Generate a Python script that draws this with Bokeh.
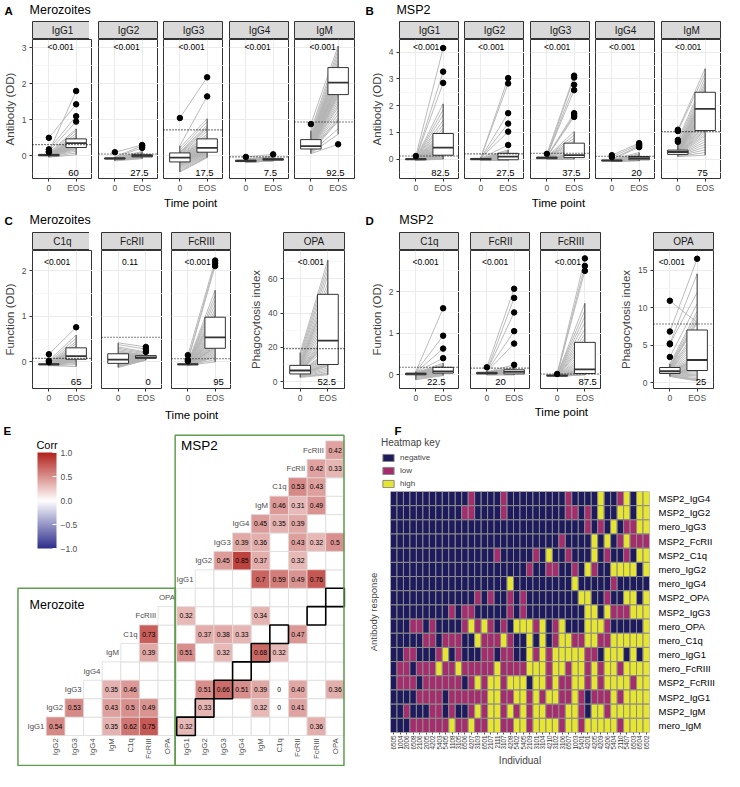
import numpy as np
from bokeh.plotting import figure
from bokeh.models import (Range1d, FixedTicker, ColumnDataSource, Span, LinearAxis, Grid,
                          ColorBar, LinearColorMapper, Legend, LegendItem)
from bokeh.layouts import row, column
from bokeh.core.properties import value
from bokeh.embed import file_html
from bokeh.resources import INLINE

FONT = "Liberation Sans"
S = 0.97
DARK = "#333333"
AXIS_TXT = "#4d4d4d"
GRID = "#ebebeb"
GRID_MINOR = "#f4f4f4"
STRIP_FILL = "#d9d9d9"
LINE_GREY = "#b3b3b3"


def r(v):
    return int(round(v * S))

# ============================ DATA ============================
time_labels = ["0", "EOS"]

# ---- A: Merozoites, antibodies ----
A_facets = ["IgG1", "IgG2", "IgG3", "IgG4", "IgM"]
A_pval = ["<0.001", "<0.001", "<0.001", "<0.001", "<0.001"]
A_pct = ["60", "27.5", "17.5", "7.5", "92.5"]
A_cutoff = [0.31, 0.05, 0.72, -0.03, 0.94]
A_box0 = [[-0.04, 0.00, 0.02, 0.04, 0.08], [-0.14, -0.09, -0.07, -0.06, -0.03],
          [-0.45, -0.17, -0.05, 0.08, 0.28], [-0.18, -0.16, -0.14, -0.12, -0.09],
          [0.06, 0.19, 0.27, 0.45, 0.70]]
A_box1 = [[0.03, 0.23, 0.35, 0.47, 0.75], [-0.08, -0.03, 0.00, 0.03, 0.12],
          [-0.05, 0.10, 0.22, 0.47, 1.03], [-0.14, -0.12, -0.10, -0.08, -0.05],
          [0.60, 1.70, 2.03, 2.45, 3.05]]
A_out0 = [[0.50, 0.18, 0.12, 0.10], [0.10], [1.05], [-0.03], [0.88]]
A_out1 = [[1.80, 1.43, 1.10, 0.95], [0.30, 0.28, 0.22], [2.18, 1.65], [0.04], [0.32]]

A_IgG1_t0 = [0.50, 0.18, 0.12, 0.10, 0.08, 0.06, 0.05, 0.05, 0.04, 0.04, 0.04, 0.03, 0.03, 0.03, 0.03, 0.03, 0.02, 0.02, 0.02, 0.02,
             0.02, 0.02, 0.01, 0.01, 0.01, 0.01, 0.01, 0.00, 0.00, 0.00, 0.00, 0.00, 0.00, -0.01, -0.01, -0.01, -0.02, -0.02, -0.03, -0.04]
A_IgG1_eos = [1.43, 1.10, 0.95, 1.80, 0.75, 0.70, 0.62, 0.55, 0.50, 0.48, 0.47, 0.46, 0.44, 0.42, 0.40, 0.39, 0.38, 0.37, 0.36, 0.35,
              0.35, 0.34, 0.33, 0.32, 0.31, 0.30, 0.29, 0.28, 0.27, 0.26, 0.25, 0.24, 0.23, 0.23, 0.22, 0.20, 0.17, 0.13, 0.08, 0.03]
A_IgG2_t0 = [0.10, -0.03, -0.04, -0.05, -0.05, -0.05, -0.06, -0.06, -0.06, -0.06, -0.06, -0.07, -0.07, -0.07, -0.07, -0.07, -0.07, -0.07, -0.08, -0.08,
             -0.08, -0.08, -0.08, -0.08, -0.08, -0.09, -0.09, -0.09, -0.09, -0.09, -0.10, -0.10, -0.10, -0.10, -0.11, -0.11, -0.12, -0.12, -0.13, -0.14]
A_IgG2_eos = [0.30, 0.28, 0.22, 0.12, 0.10, 0.08, 0.07, 0.06, 0.05, 0.04, 0.04, 0.03, 0.03, 0.03, 0.02, 0.02, 0.02, 0.01, 0.01, 0.01,
              0.00, 0.00, 0.00, 0.00, -0.01, -0.01, -0.01, -0.02, -0.02, -0.02, -0.03, -0.03, -0.03, -0.04, -0.04, -0.05, -0.05, -0.06, -0.07, -0.08]
A_IgG3_t0 = [1.05, 0.28, 0.22, 0.15, 0.10, 0.08, 0.06, 0.04, 0.02, 0.00, -0.02, -0.03, -0.04, -0.05, -0.05, -0.06, -0.07, -0.08, -0.09, -0.10,
             -0.11, -0.12, -0.13, -0.14, -0.15, -0.16, -0.17, -0.17, -0.18, -0.19, -0.20, -0.22, -0.24, -0.26, -0.28, -0.31, -0.34, -0.38, -0.42, -0.45]
A_IgG3_eos = [2.18, 1.65, 1.03, 0.95, 0.85, 0.80, 0.75, 0.68, 0.60, 0.55, 0.50, 0.47, 0.44, 0.40, 0.37, 0.33, 0.30, 0.28, 0.26, 0.24,
              0.22, 0.21, 0.20, 0.18, 0.17, 0.15, 0.14, 0.13, 0.12, 0.11, 0.10, 0.09, 0.07, 0.05, 0.03, 0.01, -0.01, -0.03, -0.04, -0.05]
A_IgG4_t0 = [-0.03, -0.09, -0.10, -0.11, -0.11, -0.12, -0.12, -0.12, -0.13, -0.13, -0.13, -0.13, -0.14, -0.14, -0.14, -0.14, -0.14, -0.14, -0.14, -0.15,
             -0.15, -0.15, -0.15, -0.15, -0.15, -0.16, -0.16, -0.16, -0.16, -0.16, -0.17, -0.17, -0.17, -0.17, -0.18, -0.18, -0.18, -0.18, -0.18, -0.18]
A_IgG4_eos = [0.04, -0.01, -0.02, -0.05, -0.06, -0.07, -0.07, -0.08, -0.08, -0.08, -0.09, -0.09, -0.09, -0.09, -0.10, -0.10, -0.10, -0.10, -0.10, -0.10,
              -0.11, -0.11, -0.11, -0.11, -0.11, -0.11, -0.12, -0.12, -0.12, -0.12, -0.12, -0.13, -0.13, -0.13, -0.13, -0.14, -0.14, -0.14, -0.14, -0.14]
A_IgM_t0 = [0.88, 0.70, 0.62, 0.56, 0.52, 0.48, 0.46, 0.45, 0.43, 0.40, 0.38, 0.36, 0.34, 0.32, 0.30, 0.29, 0.28, 0.27, 0.27, 0.26,
            0.25, 0.24, 0.23, 0.22, 0.21, 0.21, 0.20, 0.20, 0.19, 0.19, 0.18, 0.17, 0.16, 0.15, 0.14, 0.12, 0.10, 0.09, 0.07, 0.06]
A_IgM_eos = [3.05, 2.95, 2.85, 2.75, 2.65, 2.58, 2.52, 2.47, 2.45, 2.40, 2.35, 2.30, 2.25, 2.20, 2.15, 2.10, 2.06, 2.03, 2.00, 1.97,
             1.93, 1.90, 1.85, 1.80, 1.76, 1.72, 1.70, 1.65, 1.58, 1.50, 1.42, 1.35, 1.25, 1.15, 1.05, 1.00, 0.96, 0.75, 0.60, 0.32]

# ---- B: MSP2, antibodies ----
B_facets = ["IgG1", "IgG2", "IgG3", "IgG4", "IgM"]
B_pval = ["<0.001", "<0.001", "<0.001", "<0.001", "<0.001"]
B_pct = ["82.5", "27.5", "37.5", "20", "75"]
B_cutoff = [0.12, 0.20, 0.22, 0.11, 1.03]
B_box0 = [[-0.04, -0.02, 0.00, 0.02, 0.05], [-0.04, -0.02, 0.00, 0.03, 0.07],
          [0.00, 0.02, 0.05, 0.08, 0.12], [-0.08, -0.06, -0.05, -0.03, 0.00],
          [0.10, 0.18, 0.27, 0.34, 0.55]]
B_box1 = [[0.00, 0.15, 0.43, 0.96, 2.07], [-0.04, -0.02, 0.10, 0.22, 0.35],
          [0.00, 0.06, 0.15, 0.60, 1.03], [-0.06, -0.02, 0.04, 0.10, 0.25],
          [0.15, 1.07, 1.88, 2.50, 3.38]]
B_out0 = [[0.12], [], [0.20], [0.15, 0.08], [1.10, 1.05, 0.72, 0.65]]
B_out1 = [[4.15, 3.27, 2.85], [3.03, 2.83, 1.72, 1.33, 1.03, 0.53],
          [3.12, 3.05, 2.78, 2.58, 1.72, 1.65, 1.58], [0.60, 0.55, 0.50, 0.45], []]

B_IgG1_t0 = [0.12, 0.05, 0.04, 0.04, 0.03, 0.03, 0.02, 0.02, 0.02, 0.01, 0.01, 0.01, 0.01, 0.00, 0.00, 0.00, 0.00, 0.00, 0.00, 0.00,
             0.00, -0.01, -0.01, -0.01, -0.01, -0.01, -0.02, -0.02, -0.02, -0.02, -0.02, -0.02, -0.03, -0.03, -0.03, -0.03, -0.04, -0.04, -0.04, -0.04]
B_IgG1_eos = [4.15, 3.27, 2.85, 2.07, 1.85, 1.65, 1.45, 1.30, 1.15, 1.05, 0.96, 0.90, 0.82, 0.75, 0.68, 0.62, 0.56, 0.50, 0.46, 0.43,
              0.40, 0.36, 0.33, 0.30, 0.27, 0.24, 0.21, 0.19, 0.17, 0.15, 0.14, 0.13, 0.13, 0.11, 0.09, 0.07, 0.05, 0.03, 0.01, 0.00]
B_IgG2_t0 = [0.07, 0.06, 0.05, 0.04, 0.04, 0.03, 0.03, 0.03, 0.02, 0.02, 0.02, 0.01, 0.01, 0.01, 0.01, 0.00, 0.00, 0.00, 0.00, 0.00,
             0.00, 0.00, -0.01, -0.01, -0.01, -0.01, -0.01, -0.02, -0.02, -0.02, -0.02, -0.02, -0.03, -0.03, -0.03, -0.03, -0.04, -0.04, -0.04, -0.04]
B_IgG2_eos = [3.03, 2.83, 1.72, 1.33, 1.03, 0.53, 0.35, 0.30, 0.26, 0.23, 0.21, 0.19, 0.18, 0.16, 0.15, 0.13, 0.12, 0.11, 0.10, 0.10,
              0.09, 0.08, 0.07, 0.06, 0.05, 0.04, 0.03, 0.02, 0.01, 0.00, -0.01, -0.01, -0.02, -0.02, -0.02, -0.03, -0.03, -0.04, -0.04, -0.04]
B_IgG3_t0 = [0.20, 0.12, 0.11, 0.10, 0.09, 0.09, 0.08, 0.08, 0.08, 0.07, 0.07, 0.07, 0.06, 0.06, 0.06, 0.05, 0.05, 0.05, 0.05, 0.05,
             0.04, 0.04, 0.04, 0.04, 0.03, 0.03, 0.03, 0.03, 0.03, 0.02, 0.02, 0.02, 0.02, 0.01, 0.01, 0.01, 0.01, 0.00, 0.00, 0.00]
B_IgG3_eos = [3.12, 3.05, 2.78, 2.58, 1.72, 1.65, 1.58, 1.03, 0.90, 0.78, 0.68, 0.60, 0.50, 0.40, 0.30, 0.21, 0.19, 0.17, 0.16, 0.15,
              0.15, 0.14, 0.13, 0.12, 0.11, 0.10, 0.09, 0.08, 0.08, 0.07, 0.06, 0.06, 0.05, 0.04, 0.03, 0.03, 0.02, 0.01, 0.00, 0.00]
B_IgG4_t0 = [0.15, 0.08, 0.00, -0.01, -0.01, -0.02, -0.02, -0.02, -0.03, -0.03, -0.03, -0.03, -0.04, -0.04, -0.04, -0.04, -0.04, -0.05, -0.05, -0.05,
             -0.05, -0.05, -0.05, -0.05, -0.06, -0.06, -0.06, -0.06, -0.06, -0.06, -0.06, -0.07, -0.07, -0.07, -0.07, -0.07, -0.08, -0.08, -0.08, -0.08]
B_IgG4_eos = [0.60, 0.55, 0.50, 0.45, 0.25, 0.20, 0.16, 0.13, 0.11, 0.10, 0.09, 0.08, 0.08, 0.07, 0.06, 0.06, 0.05, 0.05, 0.04, 0.04,
              0.04, 0.03, 0.03, 0.02, 0.02, 0.01, 0.01, 0.00, 0.00, -0.01, -0.01, -0.02, -0.02, -0.02, -0.03, -0.03, -0.04, -0.04, -0.05, -0.06]
B_IgM_t0 = [1.10, 1.05, 0.72, 0.65, 0.55, 0.50, 0.45, 0.40, 0.37, 0.35, 0.34, 0.33, 0.32, 0.31, 0.30, 0.29, 0.28, 0.28, 0.27, 0.27,
            0.26, 0.26, 0.25, 0.24, 0.23, 0.22, 0.21, 0.20, 0.19, 0.18, 0.18, 0.17, 0.16, 0.15, 0.14, 0.13, 0.12, 0.11, 0.10, 0.10]
B_IgM_eos = [3.38, 3.20, 3.05, 2.90, 2.80, 2.70, 2.60, 2.52, 2.48, 2.42, 2.35, 2.28, 2.20, 2.12, 2.05, 1.98, 1.92, 1.88, 1.84, 1.78,
             1.70, 1.62, 1.55, 1.48, 1.40, 1.32, 1.25, 1.18, 1.12, 1.07, 1.00, 0.92, 0.85, 0.75, 0.65, 0.55, 0.45, 0.35, 0.25, 0.15]

# ---- C: Merozoites, functions ----
C_facets = ["C1q", "FcRII", "FcRIII", "OPA"]
C_pval = ["<0.001", "0.11", "<0.001", "<0.001"]
C_pct = ["65", "0", "95", "52.5"]
C_cutoff = [0.08, 0.54, 0.07, 19.3]
C_box0 = [[-0.08, -0.06, -0.05, -0.04, -0.02], [-0.12, -0.03, 0.05, 0.18, 0.42],
          [-0.07, -0.06, -0.05, -0.04, -0.02], [2.5, 4.5, 6.5, 9.5, 17.0]]
C_box1 = [[-0.10, 0.06, 0.13, 0.31, 0.59], [0.04, 0.08, 0.10, 0.14, 0.20],
          [0.00, 0.30, 0.54, 0.98, 1.57], [4.0, 10.0, 24.0, 51.0, 71.0]]
C_out0 = [[0.17, 0.03, 0.00], [], [0.15, 0.05, 0.02], []]
C_out1 = [[0.76], [0.33, 0.28, 0.22], [2.22, 2.16, 2.10], []]

C_C1q_t0 = [0.17, 0.03, 0.00, -0.02, -0.03, -0.03, -0.03, -0.04, -0.04, -0.04, -0.04, -0.04, -0.05, -0.05, -0.05, -0.05, -0.05, -0.05, -0.05, -0.05,
            -0.05, -0.05, -0.06, -0.06, -0.06, -0.06, -0.06, -0.06, -0.06, -0.06, -0.07, -0.07, -0.07, -0.07, -0.07, -0.07, -0.08, -0.08, -0.08, -0.08]
C_C1q_eos = [0.76, 0.59, 0.52, 0.45, 0.40, 0.35, 0.32, 0.30, 0.28, 0.25, 0.22, 0.20, 0.18, 0.17, 0.16, 0.15, 0.14, 0.13, 0.13, 0.12,
             0.12, 0.11, 0.11, 0.10, 0.10, 0.09, 0.08, 0.07, 0.07, 0.06, 0.06, 0.05, 0.04, 0.03, 0.02, 0.01, 0.00, -0.03, -0.06, -0.10]
C_FcRII_t0 = [0.42, 0.38, 0.33, 0.30, 0.27, 0.24, 0.22, 0.20, 0.18, 0.17, 0.15, 0.13, 0.12, 0.10, 0.09, 0.08, 0.07, 0.06, 0.05, 0.05,
              0.04, 0.03, 0.02, 0.01, 0.00, 0.00, -0.01, -0.02, -0.02, -0.03, -0.03, -0.04, -0.05, -0.06, -0.07, -0.08, -0.09, -0.10, -0.11, -0.12]
C_FcRII_eos = [0.33, 0.28, 0.22, 0.20, 0.18, 0.16, 0.15, 0.14, 0.14, 0.13, 0.13, 0.12, 0.12, 0.11, 0.11, 0.11, 0.10, 0.10, 0.10, 0.10,
               0.10, 0.09, 0.09, 0.09, 0.09, 0.08, 0.08, 0.08, 0.08, 0.08, 0.07, 0.07, 0.07, 0.06, 0.06, 0.06, 0.05, 0.05, 0.04, 0.04]
C_FcRIII_t0 = [0.15, 0.05, 0.02, -0.02, -0.03, -0.03, -0.03, -0.04, -0.04, -0.04, -0.04, -0.04, -0.04, -0.05, -0.05, -0.05, -0.05, -0.05, -0.05, -0.05,
               -0.05, -0.05, -0.05, -0.05, -0.06, -0.06, -0.06, -0.06, -0.06, -0.06, -0.06, -0.06, -0.06, -0.07, -0.07, -0.07, -0.07, -0.07, -0.07, -0.07]
C_FcRIII_eos = [2.22, 2.16, 2.10, 1.57, 1.45, 1.35, 1.25, 1.15, 1.08, 1.02, 0.98, 0.92, 0.86, 0.80, 0.75, 0.70, 0.66, 0.62, 0.58, 0.55,
                0.54, 0.52, 0.49, 0.46, 0.43, 0.40, 0.38, 0.35, 0.33, 0.31, 0.30, 0.27, 0.24, 0.21, 0.18, 0.15, 0.12, 0.10, 0.05, 0.00]
C_OPA_t0 = [17.0, 15.5, 14.0, 12.5, 11.5, 10.5, 10.0, 9.5, 9.2, 9.0, 8.5, 8.0, 7.8, 7.5, 7.2, 7.0, 6.8, 6.6, 6.5, 6.4,
            6.2, 6.0, 5.8, 5.6, 5.4, 5.2, 5.0, 4.8, 4.6, 4.5, 4.3, 4.1, 3.9, 3.7, 3.5, 3.3, 3.1, 2.9, 2.7, 2.5]
C_OPA_eos = [71.0, 68.0, 65.0, 62.0, 58.0, 55.0, 52.0, 51.0, 48.0, 45.0, 42.0, 39.0, 36.0, 33.0, 30.0, 28.0, 26.5, 25.0, 24.0, 22.0,
             20.5, 24.0, 18.0, 17.0, 16.0, 15.0, 14.0, 13.0, 12.0, 11.0, 10.5, 10.0, 9.5, 9.0, 8.0, 7.0, 6.0, 5.0, 4.5, 4.0]

# ---- D: MSP2, functions ----
D_facets = ["C1q", "FcRII", "FcRIII", "OPA"]
D_pval = ["<0.001", "<0.001", "<0.001", "<0.001"]
D_pct = ["22.5", "20", "87.5", "25"]
D_cutoff = [0.18, 0.16, 0.02, 7.8]
D_box0 = [[-0.12, 0.00, 0.02, 0.04, 0.08], [0.00, 0.02, 0.04, 0.06, 0.09],
          [-0.04, -0.03, -0.02, -0.01, 0.00], [0.8, 1.2, 1.5, 2.0, 2.5]]
D_box1 = [[-0.02, 0.04, 0.08, 0.18, 0.28], [0.00, 0.02, 0.07, 0.12, 0.18],
          [0.00, 0.03, 0.13, 0.78, 1.72], [0.2, 1.6, 3.0, 7.0, 14.5]]
D_out0 = [[], [0.18], [0.02], [10.9, 6.8, 5.2, 5.1, 3.4]]
D_out1 = [[1.60, 0.94, 0.63, 0.40], [2.07, 1.85, 1.50, 1.05, 0.75, 0.24], [2.80, 2.62, 2.50], [16.5]]

D_C1q_t0 = [0.08, 0.07, 0.06, 0.06, 0.05, 0.05, 0.05, 0.04, 0.04, 0.04, 0.04, 0.03, 0.03, 0.03, 0.03, 0.03, 0.02, 0.02, 0.02, 0.02,
            0.02, 0.02, 0.01, 0.01, 0.01, 0.01, 0.01, 0.00, 0.00, 0.00, 0.00, -0.01, -0.01, -0.02, -0.03, -0.04, -0.06, -0.08, -0.10, -0.12]
D_C1q_eos = [1.60, 0.94, 0.63, 0.40, 0.28, 0.24, 0.21, 0.20, 0.19, 0.17, 0.16, 0.15, 0.14, 0.13, 0.12, 0.11, 0.10, 0.10, 0.09, 0.09,
             0.08, 0.08, 0.07, 0.07, 0.06, 0.06, 0.05, 0.05, 0.05, 0.04, 0.04, 0.03, 0.03, 0.02, 0.02, 0.01, 0.00, 0.00, -0.01, -0.02]
D_FcRII_t0 = [0.18, 0.09, 0.08, 0.08, 0.07, 0.07, 0.06, 0.06, 0.06, 0.06, 0.05, 0.05, 0.05, 0.05, 0.05, 0.04, 0.04, 0.04, 0.04, 0.04,
              0.04, 0.04, 0.03, 0.03, 0.03, 0.03, 0.03, 0.02, 0.02, 0.02, 0.02, 0.02, 0.02, 0.01, 0.01, 0.01, 0.01, 0.00, 0.00, 0.00]
D_FcRII_eos = [2.07, 1.85, 1.50, 1.05, 0.75, 0.24, 0.18, 0.17, 0.15, 0.14, 0.13, 0.12, 0.12, 0.11, 0.10, 0.10, 0.09, 0.09, 0.08, 0.08,
               0.07, 0.07, 0.06, 0.06, 0.05, 0.05, 0.04, 0.04, 0.04, 0.03, 0.03, 0.03, 0.02, 0.02, 0.02, 0.01, 0.01, 0.01, 0.00, 0.00]
D_FcRIII_t0 = [0.02, 0.00, 0.00, -0.01, -0.01, -0.01, -0.01, -0.01, -0.01, -0.02, -0.02, -0.02, -0.02, -0.02, -0.02, -0.02, -0.02, -0.02, -0.02, -0.02,
               -0.02, -0.02, -0.02, -0.02, -0.03, -0.03, -0.03, -0.03, -0.03, -0.03, -0.03, -0.03, -0.03, -0.03, -0.04, -0.04, -0.04, -0.04, -0.04, -0.04]
D_FcRIII_eos = [2.80, 2.62, 2.50, 1.72, 1.55, 1.40, 1.25, 1.10, 0.98, 0.88, 0.78, 0.70, 0.60, 0.50, 0.42, 0.35, 0.28, 0.22, 0.18, 0.15,
                0.13, 0.12, 0.11, 0.10, 0.09, 0.08, 0.07, 0.06, 0.06, 0.05, 0.05, 0.04, 0.04, 0.03, 0.03, 0.03, 0.02, 0.01, 0.00, 0.00]
D_OPA_t0 = [10.9, 6.8, 5.2, 5.1, 3.4, 2.5, 2.3, 2.1, 2.0, 1.95, 1.9, 1.85, 1.8, 1.75, 1.7, 1.65, 1.6, 1.55, 1.5, 1.5,
            1.45, 1.4, 1.4, 1.35, 1.3, 1.3, 1.25, 1.2, 1.2, 1.15, 1.1, 1.1, 1.05, 1.0, 1.0, 0.95, 0.9, 0.9, 0.85, 0.8]
D_OPA_eos = [8.0, 16.5, 14.5, 12.0, 10.5, 9.5, 9.0, 8.5, 8.2, 7.9, 7.0, 6.5, 6.0, 5.5, 5.0, 4.5, 4.0, 3.6, 3.3, 3.1,
             3.0, 2.9, 2.7, 2.5, 2.3, 2.1, 2.0, 1.9, 1.8, 1.7, 1.6, 1.5, 1.3, 1.1, 0.9, 0.7, 0.5, 0.4, 0.3, 0.2]

# ---- E: correlation matrix (mero 0-7, MSP2 8-16) ----
corr_vars = ["IgG1", "IgG2", "IgG3", "IgG4", "IgM", "C1q", "FcRIII", "OPA",
             "IgG1", "IgG2", "IgG3", "IgG4", "IgM", "C1q", "FcRII", "FcRIII", "OPA"]
corr_i = [0, 0, 0, 0, 1, 1, 1, 1, 2, 2, 4, 5,
          6, 6, 5, 5, 5, 5, 4, 4, 4, 4, 2, 2, 2, 2, 2, 2, 2, 1, 1, 1, 1, 0, 0,
          8, 8, 8, 8, 9, 9, 9, 9, 10, 10, 10, 10, 10, 11, 11, 11, 12, 12, 12, 13, 13, 14, 14, 15]
corr_j = [1, 4, 5, 6, 2, 4, 5, 6, 4, 5, 6, 6,
          8, 12, 9, 10, 11, 14, 8, 10, 12, 13, 9, 10, 11, 12, 13, 14, 16, 9, 12, 13, 14, 8, 15,
          12, 13, 14, 15, 10, 11, 12, 14, 11, 12, 14, 15, 16, 12, 13, 14, 13, 14, 15, 14, 15, 15, 16, 16]
corr_txt = ["0.54", "0.35", "0.62", "0.75", "0.53", "0.43", "0.5", "0.49", "0.35", "0.46", "0.39", "0.73",
            "0.32", "0.34", "0.37", "0.38", "0.33", "0.47", "0.51", "0.32", "0.68", "0.32",
            "0.51", "0.66", "0.51", "0.39", "0", "0.40", "0.36", "0.33", "0.32", "0", "0.41", "0.32", "0.36",
            "0.7", "0.59", "0.49", "0.76", "0.45", "0.85", "0.37", "0.32", "0.39", "0.36", "0.43", "0.32", "0.5",
            "0.45", "0.35", "0.39", "0.46", "0.31", "0.49", "0.53", "0.43", "0.42", "0.33", "0.42"]
match_i = [0, 1, 2, 3, 4, 5, 6, 7]
match_j = [8, 9, 10, 11, 12, 13, 15, 16]

# ---- F: heatmap ----
heat_ids = ["6505", "1004", "2006", "6508", "2106", "2005", "4202", "5403", "5405", "1108",
            "3105", "6506", "4207", "3103", "6501", "2107", "2111", "3107", "4208", "5402",
            "5405", "2109", "3101", "3104", "4210", "3102", "3106", "6507", "1003", "5401",
            "4201", "4205", "4209", "4206", "5404", "2110", "5407", "6503", "6504", "6502"]
heat_rows = ["MSP2_IgG4", "MSP2_IgG2", "mero_IgG3", "MSP2_FcRII", "MSP2_C1q", "mero_IgG2",
             "mero_IgG4", "MSP2_OPA", "MSP2_IgG3", "mero_OPA", "mero_C1q", "mero_IgG1",
             "mero_FcRIII", "MSP2_FcRIII", "MSP2_IgG1", "MSP2_IgM", "mero_IgM"]
heat_calls = [
    "NNNNNNNNNNNNLNNNNLNNNNNNNNNLNNNNHNNLHNHH",
    "NNNNNNNNNNNLLNNNNLNNNNNNNNNLLNLNHNNHHNHH",
    "NNNNNNNNNNNNNNNNNNNNNNNNNNNNNNLNLNHNLLHH",
    "NNNNNNNNNNNNNNNNNNNNNNNNNNLNNNNHNHNLHLLL",
    "NNNNNNNNNNNNNNNNLNNNNNLNHNNLNNNHNLNNLNHH",
    "NNNNNNNNNNNNNNNNNNNNNLNNLLNNLNHLNNHHHHNH",
    "NNNNNNNNNNNNNNNNNNHNNNNNNNNNHNNNNNLNNNNN",
    "NNNNNNNNNNNNNLNLNNLNLNNNNNNNNHHNNLNNHHNH",
    "NNNNNNNNNLNLLNNNNNLNLNNNNNNNNNHHNHLLLHHH",
    "NNNLLNLNNNNLHLHLNLNHHHLHNLHNNNHHHLNNNNNH",
    "NNNNNLLNLLLNNHLLLHLNNHNHNLHHLLHHLLHHHHHH",
    "NNLLNNNLHNLNNNLLNLLNNHLHLHHHHHLLNHHHNHNH",
    "NLLNLLLHLLHLLLLLHLLLLHHHLHHLHHLHLHHLHHHH",
    "NLLLNLLLLLLNLHLHHLHHHNHHLHLLHHLHLHHHHLHH",
    "NNNNLLLLNLLLLLLHHLLHHLHLHHLLHLNLLLHLHHHH",
    "NNLNNNLLNLNNLHLHHLHLHLHHLLLHHLNHHLHHHHHH",
    "NNNLLLLLLHLLHLLHHLLHHLHHHHLHHLHHHHHLHHHH",
]

# ============================ HELPERS ============================

def tfig(x0, x1, y0, y1):
    f = figure(frame_width=r(x1) - r(x0), frame_height=r(y1) - r(y0), min_border=0,
               x_range=Range1d(x0, x1), y_range=Range1d(y1, y0),
               x_axis_location=None, y_axis_location=None, toolbar_location=None,
               output_backend="svg", outline_line_color=None)
    f.grid.visible = False
    return f


def put(f, x, y, s, size, bold=False, align="left", color="black"):
    f.text(x=[x], y=[y], text=[s], text_font=value(FONT), text_font_size=size,
           text_font_style="bold" if bold else "normal", text_align=align,
           text_baseline="middle", text_color=color)


def facet(L, FL, FR, R, ys, label, t0, t1, b0, b1, o0, o1, cut, pval, pct,
          yr, yticks, yminor, ylabel=None, px=1.42, qx=1.9, pfrac=0.056, qfrac=0.04):
    top, sb, pb, bb = ys
    lb, fw, rb = r(FL) - r(L), r(FR) - r(FL), r(R) - r(FR)
    sh, fh, bh = r(sb) - r(top), r(pb) - r(sb), r(bb) - r(pb)
    st = figure(frame_width=fw, frame_height=sh, min_border_left=lb, min_border_right=rb,
                min_border_top=0, min_border_bottom=0,
                x_range=Range1d(0, 1), y_range=Range1d(0, 1),
                x_axis_location=None, y_axis_location=None,
                toolbar_location=None, output_backend="svg",
                background_fill_color=STRIP_FILL, outline_line_color=DARK, outline_line_width=1)
    st.grid.visible = False
    st.text(x=[0.5], y=[0.48], text=[label], text_font=value(FONT), text_font_size="10px",
            text_color="#1a1a1a", text_align="center", text_baseline="middle")

    p = figure(frame_width=fw, frame_height=fh, min_border_left=lb, min_border_right=rb,
               min_border_top=0, min_border_bottom=bh,
               x_range=Range1d(0.4, 2.6), y_range=Range1d(*yr),
               y_axis_location="left" if ylabel else None,
               toolbar_location=None, output_backend="svg",
               outline_line_color=DARK, outline_line_width=1)
    yt = FixedTicker(ticks=yticks, minor_ticks=yminor)
    p.center = [c for c in p.center if not (isinstance(c, Grid) and c.dimension == 1)]
    p.add_layout(Grid(dimension=1, ticker=yt, grid_line_color=GRID, grid_line_width=1,
                      minor_grid_line_color=GRID_MINOR, minor_grid_line_width=0.7))
    if ylabel:
        ax = p.yaxis[0]
        ax.ticker = yt
        ax.axis_label = ylabel
        ax.axis_label_text_font = FONT
        ax.axis_label_text_font_style = "normal"
        ax.axis_label_text_font_size = "11.5px"
        ax.axis_label_standoff = 3
        ax.major_label_text_font = FONT
        ax.major_label_text_font_size = "8.5px"
        ax.major_label_text_color = AXIS_TXT
        ax.major_label_standoff = 2
        ax.major_tick_out = 3
        ax.major_tick_in = 0
        ax.major_tick_line_color = DARK
        ax.minor_tick_line_color = None
        ax.axis_line_color = None
    xt = FixedTicker(ticks=[1, 2])
    xa = p.xaxis[0]
    xa.ticker = xt
    xa.major_label_overrides = {1: time_labels[0], 2: time_labels[1]}
    xa.major_label_text_font = FONT
    xa.major_label_text_font_size = "8.5px"
    xa.major_label_text_color = AXIS_TXT
    xa.major_label_standoff = 1
    xa.major_tick_out = 3
    xa.major_tick_in = 0
    xa.major_tick_line_color = DARK
    xa.minor_tick_line_color = None
    xa.axis_line_color = None
    p.xgrid.ticker = xt
    p.xgrid.grid_line_color = GRID

    # paired lines
    p.multi_line(xs=[[1, 2] for _ in zip(t0, t1)], ys=[[a, b] for a, b in zip(t0, t1)],
                 line_color=LINE_GREY, line_width=0.9)
    # box plots
    src = ColumnDataSource(dict(x=[1, 2], lo=[b0[0], b1[0]], q1=[b0[1], b1[1]], med=[b0[2], b1[2]],
                                q3=[b0[3], b1[3]], hi=[b0[4], b1[4]],
                                xl=[1 - 0.375, 2 - 0.375], xr=[1 + 0.375, 2 + 0.375]))
    p.segment(x0="x", y0="q3", x1="x", y1="hi", source=src, line_color=DARK, line_width=1)
    p.segment(x0="x", y0="q1", x1="x", y1="lo", source=src, line_color=DARK, line_width=1)
    p.vbar(x="x", width=0.75, bottom="q1", top="q3", source=src, fill_color="white",
           line_color=DARK, line_width=1)
    p.segment(x0="xl", y0="med", x1="xr", y1="med", source=src, line_color=DARK, line_width=1.8)
    p.scatter(x=[1] * len(o0) + [2] * len(o1), y=list(o0) + list(o1), size=5.5,
              fill_color="black", line_color="black")
    p.add_layout(Span(location=cut, dimension="width", line_color="black",
                      line_dash="1 2", line_width=1.1))
    span = yr[1] - yr[0]
    p.text(x=[px], y=[yr[1] - pfrac * span], text=[pval], text_font=value(FONT),
           text_font_size="8.5px", text_align="center", text_baseline="middle", text_color="black")
    p.text(x=[qx], y=[yr[0] + qfrac * span], text=[pct], text_font=value(FONT),
           text_font_size="9.5px", text_align="center", text_baseline="middle", text_color="black")
    return column(st, p)


def group(x0, x1, FLs, Ws, specs):
    kids = []
    prev = x0
    for k, sp in enumerate(specs):
        FL = FLs[k]
        FR = FL + Ws[k]
        R = FR if k < len(specs) - 1 else x1
        kids.append(facet(prev, FL, FR, R, **sp))
        prev = FR
    return row(kids)

# ============================ PANELS A-D ============================
AB_YS = (22, 40, 183, 198)
CD_YS = (236, 255, 397, 415)

A_t0 = [A_IgG1_t0, A_IgG2_t0, A_IgG3_t0, A_IgG4_t0, A_IgM_t0]
A_t1 = [A_IgG1_eos, A_IgG2_eos, A_IgG3_eos, A_IgG4_eos, A_IgM_eos]
B_t0 = [B_IgG1_t0, B_IgG2_t0, B_IgG3_t0, B_IgG4_t0, B_IgM_t0]
B_t1 = [B_IgG1_eos, B_IgG2_eos, B_IgG3_eos, B_IgG4_eos, B_IgM_eos]
C_t0 = [C_C1q_t0, C_FcRII_t0, C_FcRIII_t0, C_OPA_t0]
C_t1 = [C_C1q_eos, C_FcRII_eos, C_FcRIII_eos, C_OPA_eos]
D_t0 = [D_C1q_t0, D_FcRII_t0, D_FcRIII_t0, D_OPA_t0]
D_t1 = [D_C1q_eos, D_FcRII_eos, D_FcRIII_eos, D_OPA_eos]

specA = [dict(ys=AB_YS, label=A_facets[k], t0=A_t0[k], t1=A_t1[k], b0=A_box0[k], b1=A_box1[k],
              o0=A_out0[k], o1=A_out1[k], cut=A_cutoff[k], pval=A_pval[k], pct=A_pct[k],
              yr=(-0.63, 3.23), yticks=[0, 1, 2, 3], yminor=[-0.5, 0.5, 1.5, 2.5],
              ylabel="Antibody (OD)" if k == 0 else None, px=1.43, qx=1.9)
         for k in range(5)]
specB = [dict(ys=AB_YS, label=B_facets[k], t0=B_t0[k], t1=B_t1[k], b0=B_box0[k], b1=B_box1[k],
              o0=B_out0[k], o1=B_out1[k], cut=B_cutoff[k], pval=B_pval[k], pct=B_pct[k],
              yr=(-0.72, 4.47), yticks=[0, 1, 2, 3, 4], yminor=[-0.5, 0.5, 1.5, 2.5, 3.5],
              ylabel="Antibody (OD)" if k == 0 else None, px=1.38, qx=1.9)
         for k in range(5)]

C_px = [1.3, 1.43, 1.36, 1.39]
C_qx = [2.0, 2.08, 2.12, 1.96]
D_px = [1.36, 1.3, 1.39, 1.07]
D_qx = [1.75, 1.5, 2.1, 2.14]
specC, specD = [], []
for k in range(4):
    opa = (k == 3)
    specC.append(dict(ys=CD_YS, label=C_facets[k], t0=C_t0[k], t1=C_t1[k], b0=C_box0[k], b1=C_box1[k],
                      o0=C_out0[k], o1=C_out1[k], cut=C_cutoff[k], pval=C_pval[k], pct=C_pct[k],
                      yr=(-4.0, 76.6) if opa else (-0.58, 2.44),
                      yticks=[0, 20, 40, 60] if opa else [0, 1, 2],
                      yminor=[10, 30, 50, 70] if opa else [-0.5, 0.5, 1.5],
                      ylabel="Phagocytosis index" if opa else ("Function (OD)" if k == 0 else None),
                      px=C_px[k], qx=C_qx[k], pfrac=0.085, qfrac=0.05))
    specD.append(dict(ys=CD_YS, label=D_facets[k], t0=D_t0[k], t1=D_t1[k], b0=D_box0[k], b1=D_box1[k],
                      o0=D_out0[k], o1=D_out1[k], cut=D_cutoff[k], pval=D_pval[k], pct=D_pct[k],
                      yr=(-0.8, 17.6) if opa else (-0.33, 2.99),
                      yticks=[0, 5, 10, 15] if opa else [0, 1, 2],
                      yminor=[2.5, 7.5, 12.5] if opa else [0.5, 1.5, 2.5],
                      ylabel="Phagocytosis index" if opa else ("Function (OD)" if k == 0 else None),
                      px=D_px[k], qx=D_qx[k], pfrac=0.085, qfrac=0.05))

tA = tfig(0, 370, 0, 22); put(tA, 4, 11, "A", "11.5px", bold=True); put(tA, 30, 10, "Merozoites", "12.5px")
tB = tfig(370, 740, 0, 22); put(tB, 373, 11, "B", "11.5px", bold=True); put(tB, 405, 10, "MSP2", "12.5px")
xA = tfig(0, 370, 198, 213); put(xA, 196, 205, "Time point", "11.5px", align="center")
xB = tfig(370, 740, 198, 213); put(xB, 572, 205, "Time point", "11.5px", align="center")
groupA = column(tA, group(0, 370, [30 + 67.5 * k for k in range(5)], [62] * 5, specA), xA)
groupB = column(tB, group(370, 740, [408 + 67.5 * k for k in range(5)], [62] * 5, specB), xB)

tC = tfig(0, 370, 213, 236); put(tC, 4, 224, "C", "11.5px", bold=True); put(tC, 30, 223, "Merozoites", "12.5px")
tD = tfig(370, 740, 213, 236); put(tD, 373, 224, "D", "11.5px", bold=True); put(tD, 408, 223, "MSP2", "12.5px")
xC = tfig(0, 370, 415, 433); put(xC, 197, 424, "Time point", "11.5px", align="center")
xD = tfig(370, 740, 415, 433); put(xD, 575, 421, "Time point", "11.5px", align="center")
groupC = column(tC, group(0, 370, [30, 101.5, 173, 289], [62, 62, 62, 63], specC), xC)
groupD = column(tD, group(370, 740, [408, 481, 554, 670], [62, 62, 62, 62], specD), xD)

# ============================ PANEL E ============================
CX0, CW, CY0, CH = 28.0, 19.2, 755.0, 19.0
corr_low, corr_mid, corr_high = (45, 45, 140), (255, 255, 255), (178, 34, 28)


def corr_color(v):
    end = corr_high if v >= 0 else corr_low
    t = min(abs(v), 1.0)
    c = [int(round(corr_mid[k] + (end[k] - corr_mid[k]) * t)) for k in range(3)]
    return "#%02x%02x%02x" % tuple(c)


corr_palette = [corr_color(v) for v in np.linspace(-1, 1, 256)]

e = figure(frame_width=r(370) - r(0), frame_height=r(787) - r(433), min_border=0,
           x_range=Range1d((0 - CX0) / CW, (370 - CX0) / CW),
           y_range=Range1d((CY0 - 787) / CH, (CY0 - 433) / CH),
           x_axis_location=None, y_axis_location=None, toolbar_location=None,
           output_backend="svg", outline_line_color=None)
e.grid.visible = False
nv = len(corr_vars)
gi = [i for i in range(nv - 1) for j in range(i + 1, nv)]
gj = [j for i in range(nv - 1) for j in range(i + 1, nv)]
e.quad(left=gj, right=[j + 1 for j in gj], bottom=gi, top=[i + 1 for i in gi],
       fill_color="white", line_color="#dcdcdc", line_width=0.8)
corr_val = [float(t) for t in corr_txt]
e.quad(left=corr_j, right=[j + 1 for j in corr_j], bottom=corr_i, top=[i + 1 for i in corr_i],
       fill_color=[corr_color(v) for v in corr_val], line_color="#e6e6e6", line_width=0.6)
e.text(x=[j + 0.5 for j in corr_j], y=[i + 0.5 for i in corr_i], text=corr_txt,
       text_font=value(FONT), text_font_size="6.8px", text_align="center",
       text_baseline="middle", text_color="black")
e.quad(left=match_j, right=[j + 1 for j in match_j], bottom=match_i, top=[i + 1 for i in match_i],
       fill_color=None, line_color="black", line_width=1.6)
e.text(x=[i + 0.9 for i in range(nv - 1)], y=[i + 0.5 for i in range(nv - 1)], text=corr_vars[:nv - 1],
       text_font=value(FONT), text_font_size="7.8px", text_align="right", text_baseline="middle",
       text_color=AXIS_TXT)
e.text(x=[j + 0.5 for j in range(1, nv)], y=[-0.15] * (nv - 1), text=corr_vars[1:], angle=np.pi / 2,
       text_font=value(FONT), text_font_size="7.8px", text_align="right", text_baseline="middle",
       text_color=AXIS_TXT)
e.quad(left=[(18 - CX0) / CW, (180 - CX0) / CW], right=[(180 - CX0) / CW, (354 - CX0) / CW],
       bottom=[(CY0 - 786) / CH] * 2, top=[(CY0 - 603) / CH, (CY0 - 445) / CH],
       fill_color=None, line_color="#5e9e4e", line_width=1.5)
e.text(x=[(3 - CX0) / CW], y=[(CY0 - 441) / CH], text=["E"], text_font=value(FONT),
       text_font_size="11.5px", text_font_style="bold", text_baseline="middle")
e.text(x=[(186 - CX0) / CW], y=[(CY0 - 456) / CH], text=["MSP2"], text_font=value(FONT),
       text_font_size="13.5px", text_baseline="middle")
e.text(x=[(30 - CX0) / CW], y=[(CY0 - 620) / CH], text=["Merozoite"], text_font=value(FONT),
       text_font_size="12.5px", text_baseline="middle")
e.text(x=[(37 - CX0) / CW], y=[(CY0 - 455) / CH], text=["Corr"], text_font=value(FONT),
       text_font_size="11px", text_baseline="middle")
mapper = LinearColorMapper(palette=corr_palette, low=-1, high=1)
cb = ColorBar(color_mapper=mapper, orientation="vertical",
              location=(r(38) - r(0), (r(787) - r(433)) - (r(562) - r(433))),
              width=r(58) - r(38), height=r(562) - r(463), padding=0, margin=0,
              ticker=FixedTicker(ticks=[-1, -0.5, 0, 0.5, 1]),
              major_label_overrides={-1: "\u22121.0", -0.5: "\u22120.5", 0: "0.0", 0.5: "0.5", 1: "1.0"},
              major_label_text_font=FONT, major_label_text_font_size="8.5px",
              major_label_text_color=AXIS_TXT, label_standoff=4,
              major_tick_line_color="white", major_tick_in=4, major_tick_out=0,
              bar_line_color=None, background_fill_alpha=0, border_line_color=None)
e.add_layout(cb)

# ============================ PANEL F ============================
NAVY, MAGENTA, YELLOW = "#1d1a5e", "#a52c6d", "#e6e52f"
call_color = {"N": NAVY, "L": MAGENTA, "H": YELLOW}

ft = tfig(370, 740, 433, 503)
put(ft, 374, 441, "F", "11.5px", bold=True)
leg_r = [ft.rect(x=[-1000], y=[-1000], width=1, height=1, fill_color=c, line_color="#888888")
         for c in (NAVY, MAGENTA, YELLOW)]
legend = Legend(items=[LegendItem(label=lab, renderers=[rr]) for lab, rr in zip(["negative", "low", "high"], leg_r)],
                title="Heatmap key", location=(r(393) - r(370), 3), orientation="vertical",
                glyph_width=14, glyph_height=9, label_height=9, label_width=30, spacing=4, padding=0,
                margin=0, title_standoff=5, label_standoff=5,
                label_text_font=FONT, label_text_font_size="8px",
                title_text_font=FONT, title_text_font_size="10px", title_text_font_style="normal",
                border_line_color=None, background_fill_alpha=0)
ft.add_layout(legend)

ncol = len(heat_ids)
nrow = len(heat_rows)
hx, hy, hc = [], [], []
for ri, calls in enumerate(heat_calls):
    for ci, ch in enumerate(calls[:ncol]):
        hx.append(ci + 0.5)
        hy.append(nrow - ri - 0.5)
        hc.append(call_color[ch])
hm = figure(frame_width=r(669) - r(402), frame_height=r(752) - r(503),
            min_border_left=r(402) - r(370), min_border_right=r(740) - r(669),
            min_border_top=0, min_border_bottom=r(787) - r(752),
            x_range=Range1d(0, ncol), y_range=Range1d(0, nrow), y_axis_location="right",
            toolbar_location=None, output_backend="svg", outline_line_color=None)
hm.grid.visible = False
hm.rect(x=hx, y=hy, width=1, height=1, fill_color=hc, line_color="#8c8c8c", line_width=1)
ra = hm.yaxis[0]
ra.ticker = FixedTicker(ticks=[nrow - i - 0.5 for i in range(nrow)])
ra.major_label_overrides = {nrow - i - 0.5: name for i, name in enumerate(heat_rows)}
ra.major_label_text_font = FONT
ra.major_label_text_font_size = "9.5px"
ra.major_label_text_color = "black"
ra.major_label_standoff = 3
ra.major_tick_line_color = None
ra.minor_tick_line_color = None
ra.axis_line_color = None
xa = hm.xaxis[0]
xa.ticker = FixedTicker(ticks=[i + 0.5 for i in range(ncol)])
xa.major_label_overrides = {i + 0.5: s for i, s in enumerate(heat_ids)}
xa.major_label_orientation = np.pi / 2
xa.major_label_text_font = FONT
xa.major_label_text_font_size = "6.3px"
xa.major_label_text_color = "#333333"
xa.major_label_standoff = 1
xa.major_tick_out = 2
xa.major_tick_in = 0
xa.major_tick_line_color = "#555555"
xa.minor_tick_line_color = None
xa.axis_line_color = None
xa.axis_label = "Individual"
xa.axis_label_text_font = FONT
xa.axis_label_text_font_style = "normal"
xa.axis_label_text_font_size = "10px"
xa.axis_label_standoff = 2
la = LinearAxis(ticker=FixedTicker(ticks=[]), axis_label="Antibody response",
                axis_label_text_font=FONT, axis_label_text_font_style="normal",
                axis_label_text_font_size="9.5px", axis_label_standoff=12,
                axis_line_color=None, major_tick_line_color=None, minor_tick_line_color=None,
                major_label_text_font_size="0px")
hm.add_layout(la, "left")

groupF = column(ft, hm)

layout = column(row(groupA, groupB), row(groupC, groupD), row(e, groupF))
open("out.html", "w").write(file_html(layout, INLINE))
